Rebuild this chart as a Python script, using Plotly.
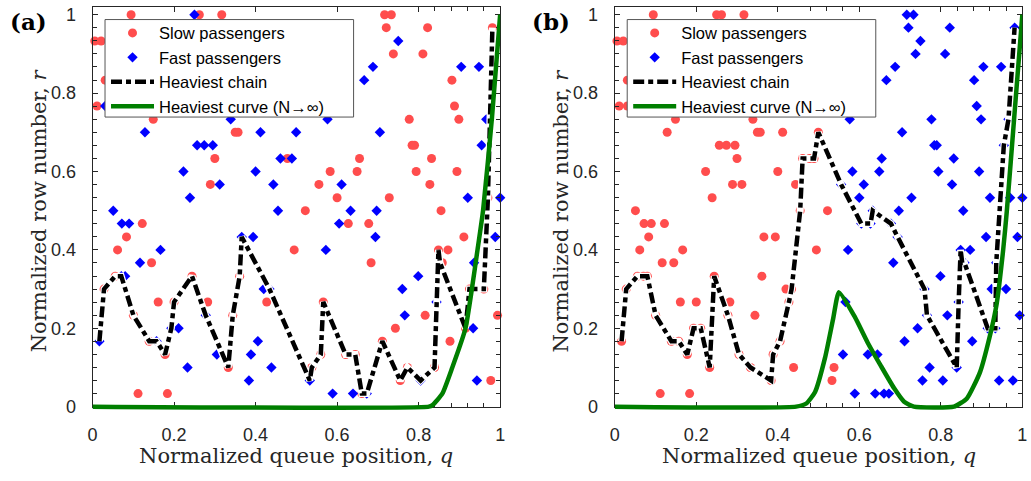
import plotly.graph_objects as go

# ---------------- data ----------------
# Panel (a): slow passengers (queue position q, row r)
slow_q_a = [0.0946, 0.262, 0.317, 0.0055, 0.021, 0.031, 0.011, 0.149, 0.350, 0.357,
            0.300, 0.478, 0.289, 0.122, 0.0833, 0.0614, 0.4947, 0.1448, 0.0557, 0.244,
            0.361, 0.0282, 0.161, 0.200, 0.2825, 0.4274, 0.1003, 0.344, 0.139, 0.178,
            0.333, 0.1116, 0.1837, 0.522, 0.855, 0.6275, 0.6776, 0.911, 0.8486, 0.872,
            0.6834, 0.8525, 0.858, 0.9247, 0.960, 0.566, 0.816, 0.9935, 0.743, 0.915,
            0.711, 0.877, 0.560, 0.621, 0.6445, 0.538, 0.7725, 0.839, 0.755, 0.977,
            0.6606, 0.7165, 0.733, 0.7206, 0.822, 0.981, 0.738, 0.8105, 0.8817, 0.888,
            0.777, 0.8987, 0.784, 0.790, 0.655, 0.8317, 0.583, 0.649, 0.794, 0.894,
            0.5554, 0.8275, 0.600, 0.728, 0.970]
slow_r_a = [1.0, 1.0, 1.0, 0.933, 0.933, 0.833, 0.767, 0.733, 0.7, 0.7,
            0.633, 0.633, 0.567, 0.467, 0.433, 0.4, 0.4, 0.367, 0.333, 0.333,
            0.333, 0.3, 0.267, 0.267, 0.267, 0.267, 0.233, 0.233, 0.167, 0.133,
            0.1, 0.0333, 0.0333, 0.5, 0.5, 0.467, 0.467, 0.433, 0.4, 0.4,
            0.367, 0.367, 0.367, 0.3, 0.3, 0.267, 0.233, 0.233, 0.2, 0.2,
            0.167, 0.167, 0.133, 0.133, 0.133, 0.1, 0.1, 0.1, 0.0667, 0.0667,
            0.0333, 1.0, 1.0, 0.967, 0.967, 0.967, 0.9, 0.9, 0.833, 0.767,
            0.733, 0.733, 0.667, 0.667, 0.633, 0.633, 0.6, 0.6, 0.6, 0.6,
            0.567, 0.567, 0.533, 0.533, 0.533]
# Panel (a): fast passengers
fast_q_a = [0.25, 0.031, 0.339, 0.1286, 0.412, 0.4995, 0.2566, 0.274, 0.295, 0.461,
            0.489, 0.223, 0.400, 0.312, 0.4436, 0.239, 0.0508, 0.455, 0.0719, 0.0897,
            0.366, 0.394, 0.1667, 0.1164, 0.0705, 0.080, 0.420, 0.434, 0.2777, 0.1934,
            0.211, 0.0168, 0.157, 0.4056, 0.305, 0.3886, 0.233, 0.4388, 0.3837, 0.633,
            0.697, 0.605, 0.694, 0.988, 0.5724, 0.936, 0.799, 0.760, 0.8438, 0.766,
            0.9337, 0.533, 0.805, 0.943, 0.589, 0.639, 0.6727, 0.75, 0.688, 0.9045,
            0.948, 0.6664, 0.966, 0.5765, 0.705, 0.9546, 0.611, 1.0, 0.9206]
fast_r_a = [1.0, 0.767, 0.733, 0.7, 0.7, 0.7, 0.667, 0.667, 0.667, 0.633,
            0.633, 0.6, 0.6, 0.567, 0.567, 0.533, 0.5, 0.5, 0.467, 0.467,
            0.433, 0.433, 0.4, 0.367, 0.333, 0.333, 0.3, 0.3, 0.233, 0.2,
            0.2, 0.167, 0.167, 0.167, 0.133, 0.133, 0.1, 0.1, 0.0667, 0.5,
            0.5, 0.467, 0.433, 0.433, 0.4, 0.367, 0.333, 0.3, 0.267, 0.233,
            0.2, 0.0667, 0.0667, 0.0667, 0.0333, 0.0333, 0.0333, 0.933, 0.867, 0.867,
            0.867, 0.833, 0.733, 0.733, 0.7, 0.667, 0.567, 0.533, 0.533]
# Panel (b): same passengers, slow ones boarding first (queue position below split)
b_split_q = 0.545

# Heaviest chains
chain_q_a = [0.0168, 0.0282, 0.0557, 0.0705, 0.1003, 0.139, 0.157, 0.178, 0.1934, 0.200,
             0.244, 0.2777, 0.333, 0.344, 0.361, 0.366, 0.434, 0.533, 0.538, 0.560,
             0.566, 0.621, 0.6445, 0.6606, 0.6727, 0.711, 0.755, 0.7725, 0.805, 0.839,
             0.8486, 0.8525, 0.915, 0.9247, 0.960, 0.970, 0.981]
chain_r_a = [0.167, 0.3, 0.333, 0.333, 0.233, 0.167, 0.167, 0.133, 0.2, 0.267,
             0.333, 0.233, 0.1, 0.233, 0.333, 0.433, 0.3, 0.0667, 0.1, 0.133,
             0.267, 0.133, 0.133, 0.0333, 0.0333, 0.167, 0.0667, 0.1, 0.0667, 0.1,
             0.4, 0.367, 0.2, 0.3, 0.3, 0.533, 0.967]
chain_q_b = [0.0168, 0.0282, 0.0557, 0.0705, 0.080, 0.1003, 0.139, 0.157, 0.178, 0.1934,
             0.211, 0.233, 0.244, 0.2777, 0.305, 0.333, 0.3837, 0.3886, 0.4056, 0.4274,
             0.434, 0.455, 0.461, 0.478, 0.489, 0.4995, 0.5554, 0.605, 0.6275, 0.633,
             0.6776, 0.694, 0.760, 0.766, 0.839, 0.8438, 0.8486, 0.8525, 0.858, 0.915,
             0.9337, 0.936, 0.9546, 0.966, 0.981]
chain_r_b = [0.167, 0.3, 0.333, 0.333, 0.333, 0.233, 0.167, 0.167, 0.133, 0.2,
             0.2, 0.1, 0.333, 0.233, 0.133, 0.1, 0.0667, 0.133, 0.167, 0.267,
             0.3, 0.5, 0.633, 0.633, 0.633, 0.7, 0.567, 0.467, 0.467, 0.5,
             0.467, 0.433, 0.3, 0.233, 0.1, 0.267, 0.4, 0.367, 0.367, 0.2,
             0.2, 0.367, 0.667, 0.733, 0.967]

# Heaviest curves (N -> infinity)
curve_q_a = [0.0, 0.825, 0.834, 0.858, 0.8826, 0.915, 0.9306, 0.945, 0.958, 0.980, 1.0]
curve_r_a = [0.0, 0.0, 0.004, 0.033, 0.1, 0.2, 0.3, 0.404, 0.5, 0.738, 1.0]
curve_q_b = [0.0, 0.445, 0.47, 0.4915, 0.516, 0.536, 0.550, 0.589, 0.621, 0.653, 0.686,
             0.710, 0.734, 0.832, 0.864, 0.896, 0.920, 0.937, 0.953, 0.962, 0.981, 1.0]
curve_r_b = [0.0, 0.0, 0.008, 0.0375, 0.125, 0.225, 0.292, 0.229, 0.1625, 0.104, 0.046,
             0.0125, 0.0, 0.0, 0.021, 0.0875, 0.179, 0.2625, 0.40, 0.5, 0.75, 1.0]

tick_vals = [0, 0.2, 0.4, 0.6, 0.8, 1]
tick_text = ["0", "0.2", "0.4", "0.6", "0.8", "1"]
y_minor = [k / 30 for k in range(1, 31)]
x_minor_a = [0.84, 0.88, 0.92, 0.96]
x_minor_b = [0.48, 0.52, 0.56, 0.84, 0.88, 0.92, 0.96]

legend_names = ["Slow passengers", "Fast passengers", "Heaviest chain",
                "Heaviest curve (N\u2192\u221e)"]

# ---------------- figure ----------------
RED = "#FF4D4D"
BLUE = "#0000FF"
GREEN = "#007F00"
INK = "#262626"

all_q = slow_q_a + fast_q_a
all_r = slow_r_a + fast_r_a
slow_q_b = [q for q in all_q if q < b_split_q]
slow_r_b = [r for q, r in zip(all_q, all_r) if q < b_split_q]
fast_q_b = [q for q in all_q if q >= b_split_q]
fast_r_b = [r for q, r in zip(all_q, all_r) if q >= b_split_q]

W, H = 1031, 481
x0a, x1a = 88.4, 500.0
off = 527.3
ytop, ybot = 5.0, 415.0
y_hi = 1.02
ext_px = 7.0                       # extra room below the axis so the r=0 curve is not cut
y_lo_ext = -ext_px * y_hi / (ybot - ytop)

fig = go.Figure()

panels = [
    ("x", "y", "y3", "legend", slow_q_a, slow_r_a, fast_q_a, fast_r_a, chain_q_a, chain_r_a, curve_q_a, curve_r_a),
    ("x2", "y2", "y4", "legend2", slow_q_b, slow_r_b, fast_q_b, fast_r_b, chain_q_b, chain_r_b, curve_q_b, curve_r_b),
]
for xa, ya, yc, lg, sq, sr, fq, fr, cq, cr, gq, gr in panels:
    fig.add_trace(go.Scatter(x=sq, y=sr, mode="markers", name=legend_names[0],
                             marker=dict(symbol="circle", size=9, color=RED),
                             xaxis=xa, yaxis=ya, legend=lg, cliponaxis=False))
    fig.add_trace(go.Scatter(x=fq, y=fr, mode="markers", name=legend_names[1],
                             marker=dict(symbol="diamond", size=8, color=BLUE),
                             xaxis=xa, yaxis=ya, legend=lg, cliponaxis=False))
    fig.add_trace(go.Scatter(x=cq, y=cr, mode="lines", showlegend=False,
                             line=dict(color="white", width=7),
                             xaxis=xa, yaxis=ya, hoverinfo="skip"))
    fig.add_trace(go.Scatter(x=cq, y=cr, mode="lines", name=legend_names[2],
                             line=dict(color="black", width=4.5, dash="11px,4px,5px,4px"),
                             xaxis=xa, yaxis=ya, legend=lg))
    fig.add_trace(go.Scatter(x=gq, y=gr, mode="lines", name=legend_names[3],
                             line=dict(color=GREEN, width=4.5, shape="spline", smoothing=0.5),
                             xaxis=xa, yaxis=yc, legend=lg))

axis_common = dict(range=[0, 1], tickmode="array", tickvals=tick_vals, ticktext=tick_text,
                   ticks="inside", ticklen=5, tickwidth=1, tickcolor=INK,
                   showline=True, linecolor=INK, linewidth=1, mirror="ticks",
                   showgrid=False, zeroline=False,
                   tickfont=dict(family="Liberation Sans", size=18, color=INK),
                   ticklabelstandoff=12)
yaxis_common = dict(axis_common)
yaxis_common.update(range=[0, y_hi],
                    minor=dict(tickmode="array", tickvals=y_minor, ticks="inside",
                               ticklen=4, tickcolor=INK, showgrid=False),
                    ticklabelstandoff=12)

xa_layout = dict(axis_common, domain=[x0a / W, x1a / W], anchor="y",
                 minor=dict(tickmode="array", tickvals=x_minor_a, ticks="inside",
                            ticklen=4, tickcolor=INK, showgrid=False))
xb_layout = dict(axis_common, domain=[(x0a + off) / W, (x1a + off) / W], anchor="y2",
                 minor=dict(tickmode="array", tickvals=x_minor_b, ticks="inside",
                            ticklen=4, tickcolor=INK, showgrid=False))
ydom = [(H - ybot) / H, (H - ytop) / H]
ydom_ext = [(H - ybot - ext_px) / H, (H - ytop) / H]
hidden_y = dict(range=[y_lo_ext, y_hi], domain=ydom_ext, visible=False,
                showgrid=False, zeroline=False, fixedrange=True)

legend_common = dict(bgcolor="rgba(0,0,0,0)", borderwidth=0,
                     font=dict(family="Liberation Sans", size=16.5, color="black"),
                     xanchor="left", yanchor="top", itemwidth=43,
                     tracegroupgap=0, itemclick=False)

fig.update_layout(
    width=W, height=H, margin=dict(l=0, r=0, t=0, b=0),
    paper_bgcolor="white", plot_bgcolor="rgba(0,0,0,0)",
    xaxis=xa_layout,
    xaxis2=xb_layout,
    yaxis=dict(yaxis_common, domain=ydom, anchor="x"),
    yaxis2=dict(yaxis_common, domain=ydom, anchor="x2"),
    yaxis3=dict(hidden_y, anchor="x"),
    yaxis4=dict(hidden_y, anchor="x2"),
    legend=dict(legend_common, x=102 / W, y=1 - 14 / H),
    legend2=dict(legend_common, x=(102 + off) / W, y=1 - 14 / H),
    showlegend=True,
)

# legend frame (white box with grey border, covering the data beneath it)
for dx in (0, off):
    fig.add_shape(type="rect", xref="paper", yref="paper", layer="above",
                  x0=(101 + dx) / W, x1=(352 + dx) / W, y0=1 - 118 / H, y1=1 - 18 / H,
                  fillcolor="white", line=dict(color="#555555", width=1))

serif = "DejaVu Serif"
for dx in (0, off):
    fig.add_annotation(x=(294.2 + dx) / W, y=1 - 466 / H, xref="paper", yref="paper",
                       text="Normalized queue position, <i>q</i>", showarrow=False,
                       font=dict(family=serif, size=21, color=INK),
                       xanchor="center", yanchor="middle")
    fig.add_annotation(x=(34 + dx) / W, y=1 - 214 / H, xref="paper", yref="paper",
                       text="Normalized row number, <i>r</i>", showarrow=False,
                       textangle=-90, font=dict(family=serif, size=21, color=INK),
                       xanchor="center", yanchor="middle")
for lbl, dx in (("(a)", 0), ("(b)", off)):
    fig.add_annotation(x=(24 + dx) / W, y=1 - 20 / H, xref="paper", yref="paper",
                       text="<b>" + lbl + "</b>", showarrow=False,
                       font=dict(family="DejaVu Serif", size=23, color="black"),
                       xanchor="center", yanchor="middle")

fig.write_html("out.html")
